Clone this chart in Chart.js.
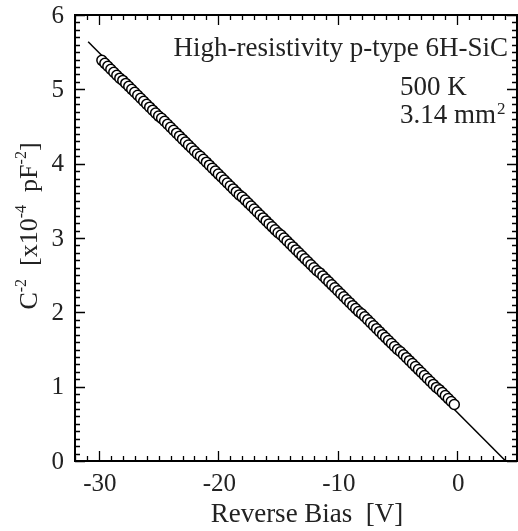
<!DOCTYPE html>
<html>
<head>
<meta charset="utf-8">
<script src="https://cdn.jsdelivr.net/npm/chart.js@4.4.1/dist/chart.umd.min.js"></script>
<style>
html, body { margin: 0; padding: 0; background: #fff; }
#wrap { width: 518px; height: 531px; }
</style>
</head>
<body>
<div id="wrap"><canvas id="cvChart"></canvas></div>
<script>
// reverse bias (V) and C^-2 (x10^-4 pF^-2)
var biasV = [
  -29.75, -29.5, -29.25, -29, -28.75, -28.5, -28.25, -28, -27.75, -27.5, -27.25, -27,
  -26.75, -26.5, -26.25, -26, -25.75, -25.5, -25.25, -25, -24.75, -24.5, -24.25, -24,
  -23.75, -23.5, -23.25, -23, -22.75, -22.5, -22.25, -22, -21.75, -21.5, -21.25, -21,
  -20.75, -20.5, -20.25, -20, -19.75, -19.5, -19.25, -19, -18.75, -18.5, -18.25, -18,
  -17.75, -17.5, -17.25, -17, -16.75, -16.5, -16.25, -16, -15.75, -15.5, -15.25, -15,
  -14.75, -14.5, -14.25, -14, -13.75, -13.5, -13.25, -13, -12.75, -12.5, -12.25, -12,
  -11.75, -11.5, -11.25, -11, -10.75, -10.5, -10.25, -10, -9.75, -9.5, -9.25, -9,
  -8.75, -8.5, -8.25, -8, -7.75, -7.5, -7.25, -7, -6.75, -6.5, -6.25, -6,
  -5.75, -5.5, -5.25, -5, -4.75, -4.5, -4.25, -4, -3.75, -3.5, -3.25, -3,
  -2.75, -2.5, -2.25, -2, -1.75, -1.5, -1.25, -1, -0.75, -0.5, -0.25
];
var invCap2 = [
  5.39, 5.35, 5.31, 5.27, 5.23, 5.19, 5.15, 5.12, 5.08, 5.04, 5.00, 4.96,
  4.92, 4.88, 4.84, 4.80, 4.76, 4.72, 4.68, 4.64, 4.61, 4.57, 4.53, 4.49,
  4.45, 4.41, 4.37, 4.33, 4.29, 4.25, 4.21, 4.17, 4.13, 4.10, 4.06, 4.02,
  3.98, 3.94, 3.90, 3.86, 3.82, 3.78, 3.74, 3.70, 3.66, 3.62, 3.58, 3.55,
  3.51, 3.47, 3.43, 3.39, 3.35, 3.31, 3.27, 3.23, 3.19, 3.15, 3.11, 3.07,
  3.04, 3.00, 2.96, 2.92, 2.88, 2.84, 2.80, 2.76, 2.72, 2.68, 2.64, 2.60,
  2.56, 2.53, 2.49, 2.45, 2.41, 2.37, 2.33, 2.29, 2.25, 2.21, 2.17, 2.13,
  2.09, 2.05, 2.01, 1.98, 1.94, 1.90, 1.86, 1.82, 1.78, 1.74, 1.70, 1.66,
  1.62, 1.58, 1.54, 1.50, 1.47, 1.43, 1.39, 1.35, 1.31, 1.27, 1.23, 1.19,
  1.15, 1.11, 1.07, 1.03, 0.99, 0.96, 0.92, 0.88, 0.84, 0.80, 0.76
];
// fitted straight line
var fitV = [-30.9, 4.05];
var fitC = [5.64, 0];

var xTickVals = [-30, -20, -10, 0];
var yTickVals = [0, 1, 2, 3, 4, 5, 6];

var xTitle = 'Reverse Bias  [V]';
var notes = ['High-resistivity p-type 6H-SiC', '500 K', '3.14 mm'];

var serif = '"Liberation Serif", "DejaVu Serif", serif';

function pts(xs, ys) {
  return xs.map(function (x, i) { return { x: x, y: ys[i] }; });
}

// inward ticks on all four sides, frame, labels and texts
var frameTicks = {
  id: 'frameTicks',
  afterDraw: function (chart) {
    var ctx = chart.ctx, a = chart.chartArea;
    var xs = chart.scales.x, ys = chart.scales.y;
    ctx.save();
    ctx.strokeStyle = '#000';
    ctx.lineWidth = 1.3;
    ctx.beginPath();
    for (var v = -32; v <= 5; v++) {
      var px = Math.round(xs.getPixelForValue(v)) + 0.5;
      var len = xTickVals.indexOf(v) >= 0 ? 10 : 5;
      ctx.moveTo(px, a.bottom); ctx.lineTo(px, a.bottom - len);
      ctx.moveTo(px, a.top); ctx.lineTo(px, a.top + len);
    }
    for (var i = 0; i <= 60; i++) {
      var py = Math.round(ys.getPixelForValue(i / 10)) + 0.5;
      var l2 = i % 10 === 0 ? 10 : 5;
      ctx.moveTo(a.left, py); ctx.lineTo(a.left + l2, py);
      ctx.moveTo(a.right, py); ctx.lineTo(a.right - l2, py);
    }
    ctx.stroke();
    ctx.lineWidth = 2;
    ctx.strokeRect(a.left, a.top, a.right - a.left, a.bottom - a.top);

    ctx.fillStyle = '#222';
    // tick labels
    ctx.font = '25px ' + serif;
    ctx.textBaseline = 'middle';
    ctx.textAlign = 'center';
    xTickVals.forEach(function (t) { ctx.fillText(String(t), xs.getPixelForValue(t) + 1, a.bottom + 23); });
    ctx.textAlign = 'right';
    yTickVals.forEach(function (t) { ctx.fillText(String(t), a.left - 11, ys.getPixelForValue(t) + 1); });

    // x axis title
    ctx.font = '27px ' + serif;
    ctx.textAlign = 'center';
    ctx.textBaseline = 'alphabetic';
    ctx.fillText(xTitle, 307, 522);

    // y axis title with superscripts
    var parts = [['C', 0], ['-2', 1], ['  [x10', 0], ['-4', 1], ['  pF', 0], ['-2', 1], [']', 0]];
    var big = '26px ' + serif, small = '16px ' + serif;
    var w = 0;
    parts.forEach(function (p) { ctx.font = p[1] ? small : big; w += ctx.measureText(p[0]).width; });
    ctx.translate(37, 226);
    ctx.rotate(-Math.PI / 2);
    ctx.textAlign = 'left';
    var cx = -w / 2;
    parts.forEach(function (p) {
      ctx.font = p[1] ? small : big;
      ctx.fillText(p[0], cx, p[1] ? -11 : 0);
      cx += ctx.measureText(p[0]).width;
    });
    ctx.setTransform(1, 0, 0, 1, 0, 0);

    // annotations
    ctx.font = '27px ' + serif;
    ctx.textAlign = 'right';
    ctx.fillText(notes[0], 508, 56);
    ctx.textAlign = 'left';
    ctx.fillText(notes[1], 400, 95);
    ctx.fillText(notes[2], 400, 123);
    var mw = ctx.measureText(notes[2]).width;
    ctx.font = '17px ' + serif;
    ctx.fillText('2', 400 + mw + 1, 114);
    ctx.restore();
  }
};

new Chart(document.getElementById('cvChart'), {
  type: 'scatter',
  data: {
    datasets: [{
      label: 'data',
      data: pts(biasV, invCap2),
      order: 0,
      pointStyle: 'circle',
      pointRadius: 5,
      pointBackgroundColor: '#fff',
      pointBorderColor: '#000',
      pointBorderWidth: 1.5,
      showLine: false
    }, {
      label: 'fit',
      data: pts(fitV, fitC),
      order: 1,
      showLine: true,
      borderColor: '#000',
      borderWidth: 1.5,
      pointRadius: 0
    }]
  },
  plugins: [frameTicks],
  options: {
    responsive: true,
    maintainAspectRatio: false,
    animation: false,
    layout: { autoPadding: false, padding: { top: 15, right: 1, left: 0, bottom: 0 } },
    plugins: { legend: { display: false }, tooltip: { enabled: false } },
    scales: {
      x: {
        type: 'linear',
        min: -32, max: 5,
        afterBuildTicks: function (s) { s.ticks = xTickVals.map(function (v) { return { value: v }; }); },
        afterFit: function (s) { s.height = 70; },
        grid: { display: false, drawTicks: false },
        border: { display: false },
        ticks: { display: false }
      },
      y: {
        type: 'linear',
        min: 0, max: 6,
        afterBuildTicks: function (s) { s.ticks = yTickVals.map(function (v) { return { value: v }; }); },
        afterFit: function (s) { s.width = 75; },
        grid: { display: false, drawTicks: false },
        border: { display: false },
        ticks: { display: false }
      }
    }
  }
});
</script>
</body>
</html>
